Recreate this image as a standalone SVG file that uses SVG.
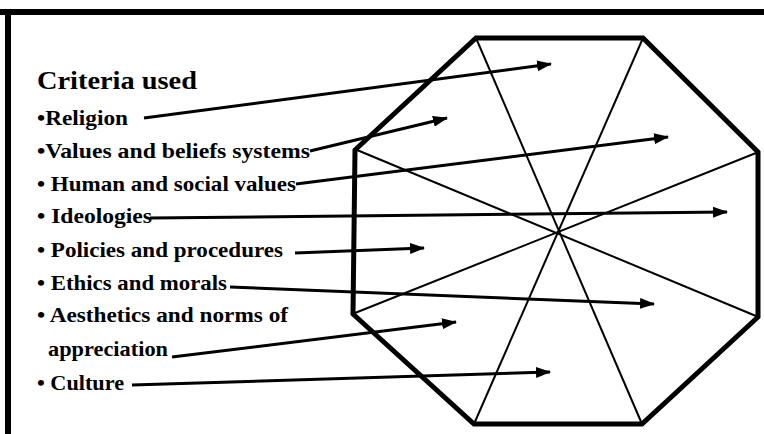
<svg xmlns="http://www.w3.org/2000/svg" width="764" height="434" viewBox="0 0 764 434">
<defs>
<style>
.t{font-family:"Liberation Serif","Times New Roman",serif;font-weight:bold;font-size:21px;fill:#000}
.h{font-size:25px}
.frame{stroke:#000;stroke-width:6;fill:none}
.oct{fill:none;stroke:#000;stroke-width:5;stroke-linejoin:miter}
.spoke{stroke:#000;stroke-width:2;fill:none}
.arr{stroke:#000;stroke-width:3;fill:none;marker-end:url(#ah)}
</style>
<marker id="ah" markerUnits="userSpaceOnUse" markerWidth="15" markerHeight="11" refX="14" refY="5.5" orient="auto">
<path d="M0,0 L15,5.5 L0,11 Z" fill="#000"/>
</marker>
</defs>
<rect width="764" height="434" fill="#fff"/>
<g id="frame">
<line class="frame" x1="0" y1="12" x2="764" y2="12"/>
<line class="frame" x1="8" y1="9" x2="8" y2="434"/>
</g>
<g id="octagon">
<polygon class="oct" points="476,38 643,38 758,152 758,317 642,424 474,424 353,314 355,150"/>
<line class="spoke" x1="476" y1="38" x2="642" y2="424"/>
<line class="spoke" x1="643" y1="38" x2="474" y2="424"/>
<line class="spoke" x1="357" y1="150" x2="756" y2="316"/>
<line class="spoke" x1="756" y1="153" x2="355" y2="313"/>
</g>
<g id="title"><text class="t h" x="37" y="89" textLength="160" lengthAdjust="spacingAndGlyphs">Criteria used</text></g>
<g id="religion"><text class="t" x="37" y="125" textLength="91" lengthAdjust="spacingAndGlyphs">•Religion</text></g>
<g id="values"><text class="t" x="37" y="158" textLength="273" lengthAdjust="spacingAndGlyphs">•Values and beliefs systems</text></g>
<g id="human"><text class="t" x="37" y="191" textLength="259" lengthAdjust="spacingAndGlyphs">• Human and social values</text></g>
<g id="ideologies"><text class="t" x="37" y="223" textLength="115" lengthAdjust="spacingAndGlyphs">• Ideologies</text></g>
<g id="policies"><text class="t" x="37" y="257" textLength="246" lengthAdjust="spacingAndGlyphs">• Policies and procedures</text></g>
<g id="ethics"><text class="t" x="37" y="290" textLength="190" lengthAdjust="spacingAndGlyphs">• Ethics and morals</text></g>
<g id="aesthetics">
<text class="t" x="37" y="322" textLength="251" lengthAdjust="spacingAndGlyphs">• Aesthetics and norms of</text>
<text class="t" x="48" y="356" textLength="120" lengthAdjust="spacingAndGlyphs">appreciation</text>
</g>
<g id="culture"><text class="t" x="37" y="390" textLength="87" lengthAdjust="spacingAndGlyphs">• Culture</text></g>
<g id="connectors">
<line class="arr" x1="144" y1="118" x2="551" y2="64"/>
<line class="arr" x1="310" y1="151" x2="447" y2="118"/>
<line class="arr" x1="296" y1="184" x2="668" y2="137"/>
<line class="arr" x1="150" y1="218" x2="727" y2="212"/>
<line class="arr" x1="295" y1="253" x2="424" y2="248"/>
<line class="arr" x1="230" y1="287" x2="654" y2="304"/>
<line class="arr" x1="172" y1="357" x2="456" y2="322"/>
<line class="arr" x1="132" y1="385" x2="550" y2="372"/>
</g>
</svg>
